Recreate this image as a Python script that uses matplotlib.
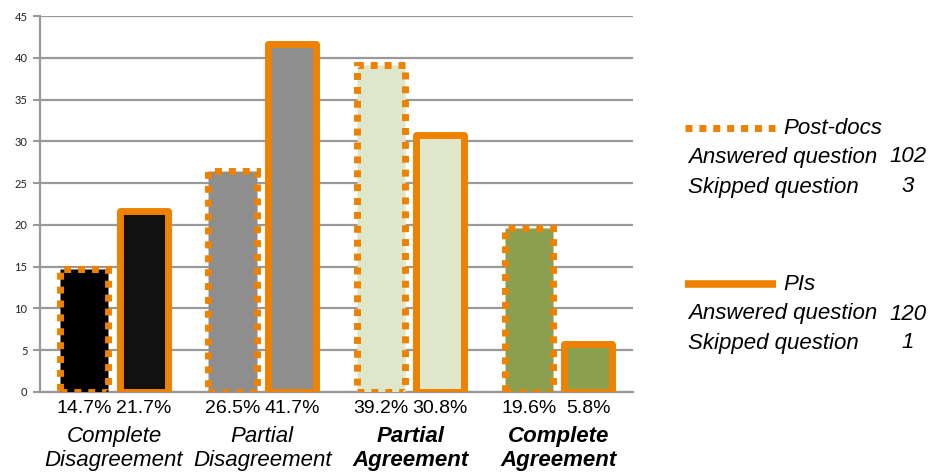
import matplotlib.pyplot as plt
import numpy as np
from matplotlib.lines import Line2D

# survey answers, percent of respondents per group
categories = ["Complete\nDisagreement", "Partial\nDisagreement",
              "Partial\nAgreement", "Complete\nAgreement"]
postdocs = [14.7, 26.5, 39.2, 19.6]
pis = [21.7, 41.7, 30.8, 5.8]
fills = ["#000000", "#8e8e8e", "#dfe7cb", "#8a9f4f"]
fills_pi = ["#111111", "#8e8e8e", "#dfe7cb", "#8a9f4f"]
bold_cat = [False, False, True, True]
yticks = np.arange(0, 50, 5)

postdoc_counts = ("102", "3")
pi_counts = ("120", "1")

orange = "#ee8200"
font = "Liberation Sans"

fig = plt.figure(figsize=(9.29, 4.72), dpi=100)
ax = fig.add_axes([0.043, 0.1695, 0.638, 0.7965])

x = np.arange(len(categories))
off = 0.2
w = 0.325

for i in range(len(categories)):
    ax.bar(x[i] - off, postdocs[i], width=w, color=fills[i], edgecolor=orange,
           linewidth=5, linestyle=(0, (1, 1)), zorder=3)
    ax.bar(x[i] + off, pis[i], width=w, color=fills_pi[i], edgecolor=orange,
           linewidth=5, joinstyle="round", zorder=3)

ax.set_xlim(-0.5, 3.5)
ax.set_ylim(0, 45)
ax.set_yticks(yticks)
ax.set_yticklabels([str(v) for v in yticks], fontsize=8, family="Lato", color="#222222")
ax.tick_params(axis="y", length=5, width=1.5, color="#999999", pad=4)
ax.set_xticks([])
ax.grid(axis="y", color="#999999", linewidth=1.6, zorder=0)
for s in ["top", "right"]:
    ax.spines[s].set_visible(False)
for s in ["left", "bottom"]:
    ax.spines[s].set_color("#999999")
    ax.spines[s].set_linewidth(1.6)

# percentages under each bar, then the category names
tr = ax.get_xaxis_transform()
for i in range(len(categories)):
    ax.text(x[i] - off, -0.045, f"{postdocs[i]}%", transform=tr, ha="center",
            va="center", fontsize=14, family=font)
    ax.text(x[i] + off, -0.045, f"{pis[i]}%", transform=tr, ha="center",
            va="center", fontsize=14, family=font)
    lines = categories[i].split("\n")
    for j, ln in enumerate(lines):
        ax.text(x[i], -0.118 - 0.064 * j, ln, transform=tr, ha="center", va="center",
                fontsize=16, family=font, style="italic",
                weight="bold" if bold_cat[i] else "normal")

# hand-made legend on the right
def fx(px):
    return px / 929


def fy(py):
    return 1 - py / 472


fig.add_artist(Line2D([fx(685), fx(775)], [fy(128), fy(128)], color=orange,
                      linewidth=5, linestyle=(0, (1, 1)), solid_capstyle="butt"))
fig.add_artist(Line2D([fx(685), fx(776)], [fy(284), fy(284)], color=orange,
                      linewidth=5.5, solid_capstyle="butt"))

kw = dict(fontsize=16, family=font, style="italic", va="center")
fig.text(fx(783), fy(129), "Post-docs", **kw)
fig.text(fx(688), fy(157), "Answered question", **kw)
fig.text(fx(908), fy(157), postdoc_counts[0], ha="center", **kw)
fig.text(fx(688), fy(187), "Skipped question", **kw)
fig.text(fx(908), fy(187), postdoc_counts[1], ha="center", **kw)
fig.text(fx(783), fy(285), "PIs", **kw)
fig.text(fx(688), fy(314), "Answered question", **kw)
fig.text(fx(908), fy(314), pi_counts[0], ha="center", **kw)
fig.text(fx(688), fy(343), "Skipped question", **kw)
fig.text(fx(908), fy(343), pi_counts[1], ha="center", **kw)

fig.savefig("out.png", dpi=100)
